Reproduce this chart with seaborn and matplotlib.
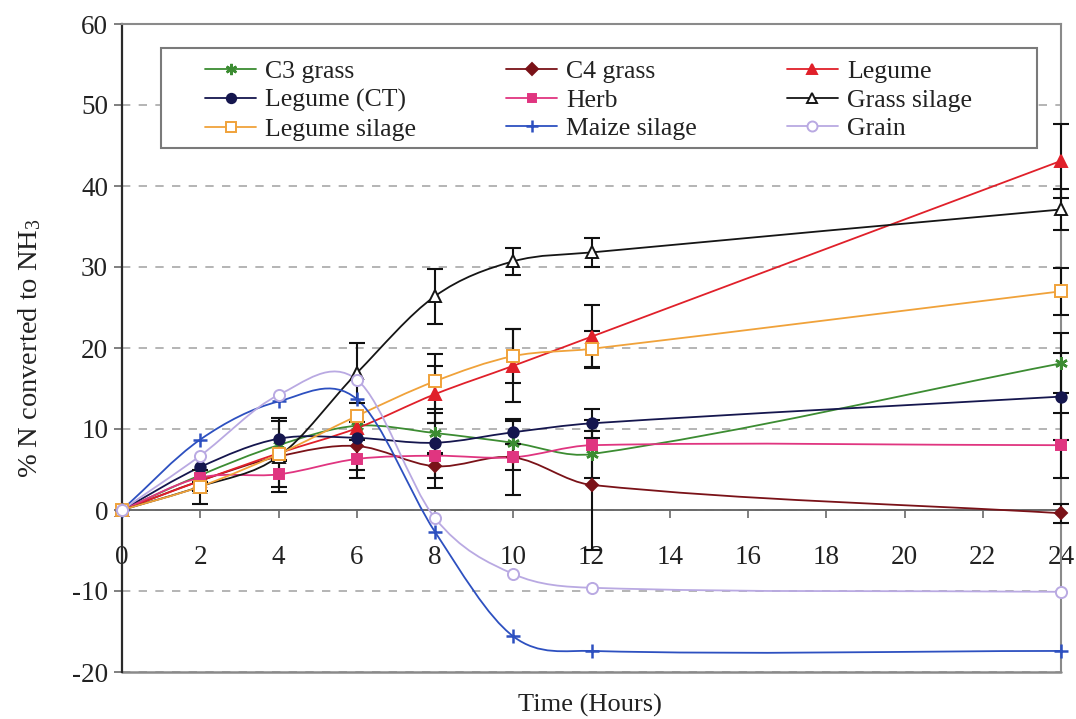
import numpy as np
import pandas as pd
import matplotlib
matplotlib.use("Agg")
import matplotlib.pyplot as plt
import seaborn as sns
from matplotlib.path import Path
from matplotlib.patches import PathPatch, Rectangle
from matplotlib.lines import Line2D

# ---------------- data ----------------
hours = [0, 2, 4, 6, 8, 10, 12, 24]

c3_grass      = [0, 4.3, 8.0, 10.4, 9.5, 8.3, 6.9, 18.1]
c4_grass      = [0, 3.6, 6.6, 7.9, 5.4, 6.5, 3.1, -0.4]
legume        = [0, 3.6, 7.0, 10.1, 14.3, 17.8, 21.4, 43.1]
legume_ct     = [0, 5.3, 8.8, 8.9, 8.3, 9.6, 10.7, 14.0]
herb          = [0, 4.0, 4.4, 6.3, 6.7, 6.5, 8.0, 8.0]
grass_silage  = [0, 2.9, 6.6, 16.9, 26.4, 30.7, 31.8, 37.1]
legume_silage = [0, 2.9, 6.9, 11.6, 15.9, 19.0, 19.9, 27.0]
maize_silage  = [0, 8.7, 13.4, 13.7, -2.7, -15.6, -17.4, -17.4]
grain         = [0, 6.7, 14.2, 16.1, -1.0, -7.9, -9.6, -10.1]

c3_err  = [0, 0, 0, 0, 2.5, 0, 2.9, 3.7]
c4_err  = [0, 0, 0, 3.0, 1.5, 1.6, 8.0, 1.2]
leg_err = [0, 0, 0, 0, 3.5, 4.5, 3.9, 4.6]
lct_err = [0, 0, 2.6, 0, 0, 1.4, 1.8, 5.4]
herb_err = [0, 0, 1.6, 2.3, 4.0, 4.7, 0, 4.0]
gs_err  = [0, 2.1, 4.4, 3.7, 3.4, 1.7, 1.8, 2.5]
ls_err  = [0, 0.6, 0, 0, 3.4, 3.3, 2.2, 2.9]
maize_err = [0, 0, 0, 0, 0, 0, 0, 0]
grain_err = [0, 0, 0, 0, 0, 0, 0, 0]

names = ["C3 grass", "C4 grass", "Legume", "Legume (CT)", "Herb",
         "Grass silage", "Legume silage", "Maize silage", "Grain"]
values = [c3_grass, c4_grass, legume, legume_ct, herb,
          grass_silage, legume_silage, maize_silage, grain]
errors = [c3_err, c4_err, leg_err, lct_err, herb_err,
          gs_err, ls_err, maize_err, grain_err]

# ---------------- styles ----------------
colors = ["#3c8c32", "#7a1218", "#e0202a", "#15164e", "#e03580",
          "#151515", "#f0a23a", "#2d50c0", "#b9a9e2"]
markers = [(6, 2, 0), "D", "^", "o", "s", "^", "s", "+", "o"]
open_face = [False, False, False, False, False, True, True, False, True]
msizes = [9, 6.5, 8, 7.5, 7, 8, 8, 10, 8]

sns.set_theme(style="white")
plt.rcParams["font.family"] = ["Liberation Serif", "DejaVu Serif"]
plt.rcParams["mathtext.fontset"] = "custom"
plt.rcParams["mathtext.rm"] = "Liberation Serif"
plt.rcParams["mathtext.default"] = "regular"
plt.rcParams["axes.unicode_minus"] = False

W, H = 1076, 719
fig = plt.figure(figsize=(W / 100, H / 100), dpi=100)
fig.patch.set_facecolor("white")
ax = fig.add_axes([122 / W, 1 - 672 / H, 939 / W, 648 / H])
ax.set_facecolor("white")


def smooth_path(x, y):
    x = np.asarray(x, float)
    y = np.asarray(y, float)
    n = len(x)
    m = np.empty(n)
    m[0] = (y[1] - y[0]) / (x[1] - x[0])
    m[-1] = (y[-1] - y[-2]) / (x[-1] - x[-2])
    m[1:-1] = (y[2:] - y[:-2]) / (x[2:] - x[:-2])
    verts = [(x[0], y[0])]
    codes = [Path.MOVETO]
    for i in range(n - 1):
        h = x[i + 1] - x[i]
        verts += [(x[i] + h / 3, y[i] + m[i] * h / 3),
                  (x[i + 1] - h / 3, y[i + 1] - m[i + 1] * h / 3),
                  (x[i + 1], y[i + 1])]
        codes += [Path.CURVE4] * 3
    return Path(verts, codes)


handles = {}
for name, vals, errs, col, mk, op, ms in zip(names, values, errors, colors,
                                              markers, open_face, msizes):
    df = pd.DataFrame({"hours": hours, "value": vals, "err": errs})
    ax.add_patch(PathPatch(smooth_path(df["hours"], df["value"]),
                           facecolor="none", edgecolor=col, lw=1.3,
                           zorder=3, clip_on=False))
    sub = df[df["err"] > 0]
    if len(sub):
        ax.errorbar(sub["hours"], sub["value"], yerr=sub["err"], fmt="none",
                    ecolor="#111111", elinewidth=1.5, capsize=6,
                    capthick=1.5, zorder=4, clip_on=False)
    fc = "white" if op else col
    mew = 1.8 if mk in ("+",) or isinstance(mk, tuple) else 1.4
    sns.lineplot(data=df, x="hours", y="value", ax=ax, linestyle="none",
                 marker=mk, markersize=ms, markerfacecolor=fc,
                 markeredgecolor=col, markeredgewidth=mew, color=col,
                 errorbar=None, legend=False, zorder=5, clip_on=False)
    handles[name] = Line2D([], [], color=col, lw=1.3, marker=mk,
                           markersize=ms * 0.9, markerfacecolor=fc,
                           markeredgecolor=col, markeredgewidth=mew)

# ---------------- axes ----------------
ax.set_xlim(0, 24)
ax.set_ylim(-20, 60)
ax.set_xticks(np.arange(0, 25, 2))
ax.set_yticks(np.arange(-20, 61, 10))
ax.yaxis.grid(True, linestyle=(0, (5, 5)), color="#a8a8a8", lw=1.2)
ax.xaxis.grid(False)
ax.set_axisbelow(True)

ax.spines["bottom"].set_position(("data", 0))
for s in ["top", "right"]:
    ax.spines[s].set_color("#8a8a8a")
    ax.spines[s].set_linewidth(1.5)
ax.spines["bottom"].set_color("#6a6a6a")
ax.spines["bottom"].set_linewidth(1.4)
ax.spines["left"].set_color("#2a2a2a")
ax.spines["left"].set_linewidth(1.6)
ax.axhline(-20, color="#8a8a8a", lw=1.8, clip_on=False, zorder=2)

ax.tick_params(axis="x", direction="out", length=6, width=1.2,
               color="#6a6a6a", pad=19, labelsize=19.5, labelcolor="#222222",
               bottom=True)
ax.tick_params(axis="y", direction="out", length=6, width=1.2,
               color="#6a6a6a", pad=4, labelsize=19.5, labelcolor="#222222",
               left=True)

ax.set_xlabel("")
ax.set_ylabel("")
fig.text(590 / W, 1 - 705 / H, "Time (Hours)", ha="center", va="center",
         fontsize=19, color="#222222")
fig.text(30 / W, 1 - 348 / H, "% N converted to NH$_3$", ha="center",
         va="center", rotation=90, fontsize=20.5, color="#222222")

# ---------------- legend ----------------
order = ["C3 grass", "Legume (CT)", "Legume silage",
         "C4 grass", "Herb", "Maize silage",
         "Legume", "Grass silage", "Grain"]
x0 = (205 - 122) / 939
x1 = (972 - 122) / 939
ytop = (672 - 60) / 648
leg = ax.legend([handles[n] for n in order], order, ncol=3,
                loc="upper left", mode="expand",
                bbox_to_anchor=(x0, ytop - 0.2, x1 - x0, 0.2),
                frameon=False, fontsize=18.5, handlelength=2.0,
                handletextpad=0.35, labelspacing=0.22, borderpad=0,
                borderaxespad=0, columnspacing=1.0)
for t in leg.get_texts():
    t.set_color("#222222")
ax.add_patch(Rectangle(((161 - 122) / 939, (672 - 148) / 648),
                       (1037 - 161) / 939, 100 / 648,
                       transform=ax.transAxes, facecolor="white",
                       edgecolor="#7a7a7a", lw=1.5, zorder=1.5))

fig.savefig("out.png", dpi=100, facecolor="white")
